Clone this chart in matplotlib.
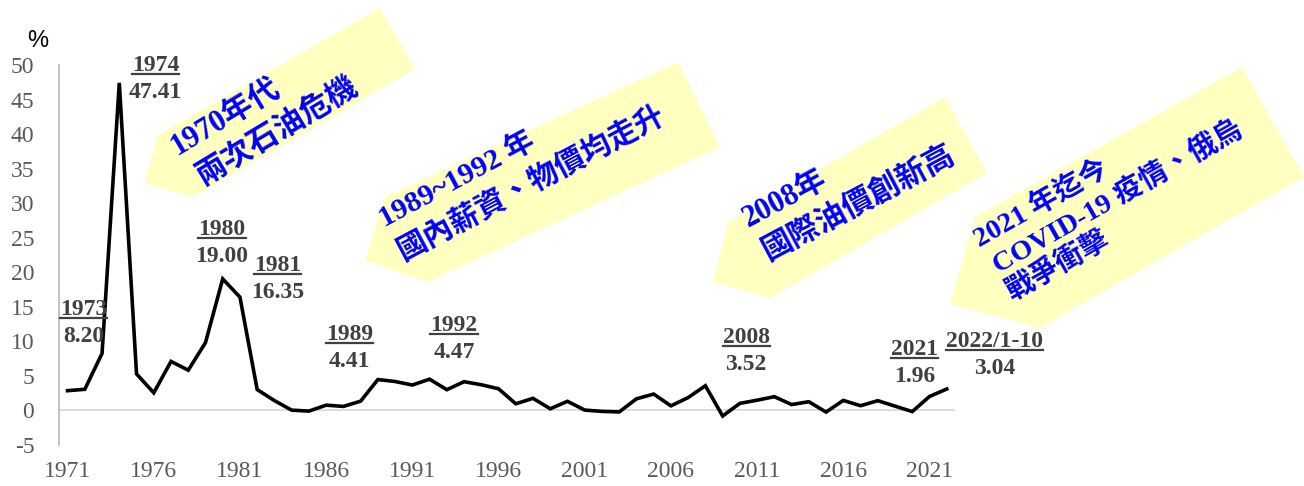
import matplotlib
matplotlib.use("Agg")
import matplotlib.pyplot as plt
from matplotlib.patches import Polygon
from matplotlib.lines import Line2D
from matplotlib.transforms import IdentityTransform

W, H = 1304, 486

# Taiwan CPI annual change (%), 1971 - 2022 (2022 = Jan-Oct)
years = list(range(1971, 2023))
cpi = [2.80, 3.00, 8.20, 47.41, 5.23, 2.49, 7.04, 5.77, 9.76, 19.00,
       16.35, 2.96, 1.36, -0.02, -0.16, 0.70, 0.52, 1.28, 4.41, 4.13,
       3.62, 4.47, 2.94, 4.10, 3.66, 3.08, 0.90, 1.69, 0.18, 1.26,
       -0.01, -0.20, -0.28, 1.62, 2.31, 0.60, 1.80, 3.52, -0.87, 0.96,
       1.42, 1.93, 0.79, 1.20, -0.30, 1.39, 0.62, 1.35, 0.56, -0.23,
       1.96, 3.04]

xticks = list(range(1971, 2022, 5))
yticks = list(range(-5, 51, 5))

# highlighted points: (year, label text, label x, underline y) in data units
callouts = [
    (1973, "1973", 1971.93, 13.3),
    (1974, "1974", 1976.10, 48.7),
    (1980, "1980", 1979.96, 24.9),
    (1981, "1981", 1983.18, 19.7),
    (1989, "1989", 1987.36, 9.7),
    (1992, "1992", 1993.42, 11.0),
    (2008, "2008", 2010.36, 9.3),
    (2021, "2021", 2020.13, 7.5),
    (2022, "2022/1-10", 2024.77, 8.7),
]

# yellow arrow notes: outline (pixels), text lines with start (pixels), angle, size
notes = [
    ([(158, 135), (145, 183), (193, 197), (415, 69), (380, 8)],
     [("1970年代", 177, 155), ("兩次石油危機", 202, 185)], 31, 22),
    ([(385, 197), (365, 260), (427, 282), (720, 147), (678, 62)],
     [("1989~1992 年", 385, 227), ("國內薪資、物價均走升", 403, 260)], 28, 21.5),
    ([(728, 222), (713, 282), (770, 298), (987, 173), (945, 97)],
     [("2008年", 748, 227), ("國際油價創新高", 768, 260)], 28, 22),
    ([(975, 217), (950, 304), (1040, 328), (1304, 177), (1242, 67)],
     [("2021 年迄今", 980, 247), ("COVID-19 疫情、俄烏", 998, 273),
      ("戰爭衝擊", 1012, 300)], 29.5, 20.5),
]

SERIF = ["Liberation Serif", "Noto Sans CJK TC"]


def px(x, y):
    return (x / W, 1 - y / H)


fig = plt.figure(figsize=(W / 100, H / 100), dpi=100)
ax = fig.add_axes([59.3 / W, (H - 444.5) / H, (955 - 59.3) / W, (444.5 - 65) / H])

ax.plot(years, cpi, color="black", lw=2.6, solid_joinstyle="miter", zorder=3)
ax.axhline(0, color="#D9D9D9", lw=1.3, zorder=1)

ax.set_xlim(1970.52, 2022.48)
ax.set_ylim(-5, 50)
ax.set_xticks(xticks)
ax.set_yticks(yticks)
ax.set_xticklabels([str(t) for t in xticks], family="Liberation Serif", size=17, color="#595959")
ax.set_yticklabels([str(t) for t in yticks], family="Liberation Serif", size=17, color="#595959")
ax.tick_params(length=0)
ax.tick_params(axis="y", pad=18)
ax.tick_params(axis="x", pad=12)
for s in ["top", "right", "bottom"]:
    ax.spines[s].set_visible(False)
ax.spines["left"].set_color("#BFBFBF")
ax.spines["left"].set_linewidth(1.3)
ax.patch.set_alpha(0)

fig.text(37.5 / W, 1 - 41 / H, "%", family="Liberation Sans", size=17,
         ha="center", va="center")

# arrow notes
for outline, lines, ang, size in notes:
    fig.add_artist(Polygon([px(x, y) for x, y in outline], closed=True,
                           transform=fig.transFigure, facecolor="#FFFFC0",
                           edgecolor="none", zorder=0))
    for txt, x, y in lines:
        fig.text(*px(x, y), txt, family=SERIF, weight="bold", size=size,
                 color="#0000FF", rotation=ang, rotation_mode="anchor",
                 ha="left", va="baseline", zorder=2)

# data callouts
year_texts = []
for yr, lab, lx, ly in callouts:
    val = cpi[years.index(yr)]
    t = ax.annotate(lab, (lx, ly), xytext=(0, 3), textcoords="offset pixels",
                    ha="center", va="baseline", family="Liberation Serif",
                    weight="bold", size=17, color="#404040", annotation_clip=False)
    ax.annotate(f"{val:.2f}", (lx, ly), xytext=(0, -24), textcoords="offset pixels",
                ha="center", va="baseline", family="Liberation Serif",
                weight="bold", size=17, color="#404040", annotation_clip=False)
    year_texts.append((t, lx, ly))

fig.canvas.draw()
r = fig.canvas.get_renderer()
for t, lx, ly in year_texts:
    bb = t.get_window_extent(r)
    yd = ax.transData.transform((lx, ly))[1]
    fig.add_artist(Line2D([bb.x0, bb.x1], [yd, yd], transform=IdentityTransform(),
                          color="#404040", lw=1.6))

fig.savefig("out.png", dpi=100)
